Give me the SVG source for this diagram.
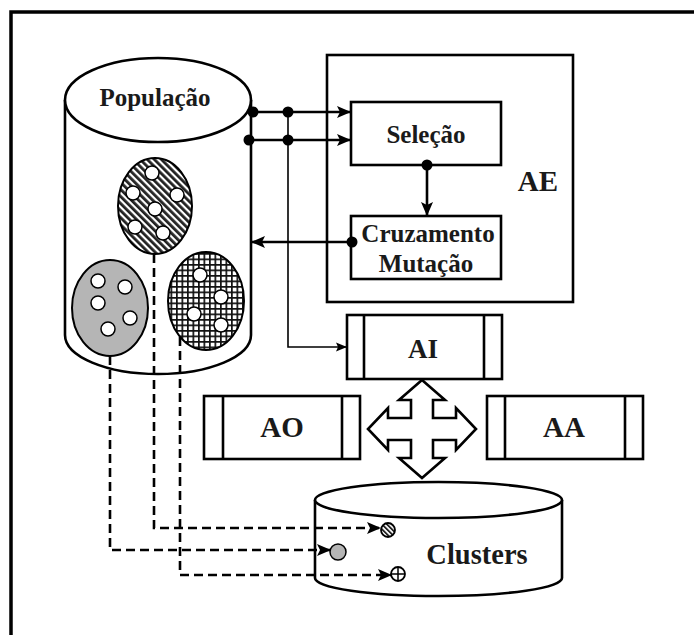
<svg xmlns="http://www.w3.org/2000/svg" width="694" height="635" viewBox="0 0 694 635">
<defs>
<style>
.s{fill:#fff;stroke:#000;stroke-width:2.6}
.t{font-family:'Liberation Serif','DejaVu Serif',serif;font-weight:700;fill:#1a1a1a;text-anchor:middle}
.c{fill:none;stroke:#000;stroke-width:2.6}
.thin{fill:none;stroke:#000;stroke-width:1.6}
.d{fill:none;stroke:#000;stroke-width:2.6;stroke-dasharray:9 5}
.w{fill:#fff;stroke:#000;stroke-width:1.5}
.dot{fill:#000}
</style>
<pattern id="diag" patternUnits="userSpaceOnUse" width="5" height="5" patternTransform="rotate(-45)">
<rect width="5" height="5" fill="#fff"/><rect width="2.8" height="5" fill="#222"/>
</pattern>
<pattern id="diag2" patternUnits="userSpaceOnUse" width="3.5" height="3.5" patternTransform="rotate(-45)">
<rect width="3.5" height="3.5" fill="#fff"/><rect width="1.8" height="3.5" fill="#222"/>
</pattern>
<pattern id="grid" patternUnits="userSpaceOnUse" width="5.5" height="5.5">
<rect width="5.5" height="5.5" fill="#fff"/><rect width="1.7" height="5.5" fill="#111"/><rect width="5.5" height="1.7" fill="#111"/>
</pattern>
<marker id="ah" markerUnits="userSpaceOnUse" markerWidth="14" markerHeight="14" viewBox="0 0 14 14" refX="13" refY="7" orient="auto">
<path d="M0,1 L14,7 L0,13 L3,7 Z" fill="#000"/>
</marker>
<marker id="ahs" markerUnits="userSpaceOnUse" markerWidth="11" markerHeight="11" viewBox="0 0 11 11" refX="10" refY="5.5" orient="auto">
<path d="M0,1 L11,5.5 L0,10 L2,5.5 Z" fill="#000"/>
</marker>
</defs>
<rect width="694" height="635" fill="#fff"/>
<path d="M11,635 V12 H694" fill="none" stroke="#000" stroke-width="3.5"/>

<g id="populacao">
<path class="s" d="M65,100 V335 A93,39 0 0 0 251,335 V100"/>
<ellipse class="s" cx="158" cy="100" rx="93" ry="42"/>
<text class="t" x="155" y="106" font-size="25">População</text>
<ellipse cx="155" cy="206" rx="37" ry="48" fill="url(#diag)" stroke="#000" stroke-width="2"/>
<g class="w">
<circle cx="152" cy="173" r="7"/><circle cx="133" cy="193" r="7"/><circle cx="177" cy="195" r="7"/>
<circle cx="155" cy="209" r="7"/><circle cx="135" cy="227" r="7"/><circle cx="163" cy="233" r="7"/>
</g>
<ellipse cx="110" cy="308" rx="38" ry="48" fill="#b5b5b5" stroke="#000" stroke-width="2"/>
<g class="w">
<circle cx="98" cy="281" r="7"/><circle cx="125" cy="287" r="7"/><circle cx="98" cy="303" r="7"/>
<circle cx="130" cy="318" r="7"/><circle cx="108" cy="329" r="7"/>
</g>
<ellipse cx="206" cy="301" rx="38" ry="49" fill="url(#grid)" stroke="#000" stroke-width="2"/>
<g class="w">
<circle cx="200" cy="275" r="7"/><circle cx="221" cy="297" r="7"/><circle cx="194" cy="314" r="7"/><circle cx="221" cy="325" r="7"/>
</g>
</g>

<g id="ae">
<rect class="s" x="327" y="55" width="246" height="247"/>
<text class="t" x="538" y="191" font-size="29">AE</text>
</g>
<g id="selecao">
<rect class="s" x="351" y="102" width="150" height="63"/>
<text class="t" x="426" y="143" font-size="25">Seleção</text>
</g>
<g id="cruzamento">
<rect class="s" x="351" y="216" width="150" height="63"/>
<text class="t" x="428" y="242" font-size="25">Cruzamento</text>
<text class="t" x="426" y="272" font-size="25">Mutação</text>
</g>

<g id="ai">
<rect class="s" x="347" y="315" width="155" height="64"/>
<path class="c" d="M364,315 V379 M484,315 V379"/>
<text class="t" x="423" y="358" font-size="27">AI</text>
</g>
<g id="ao">
<rect class="s" x="204" y="396" width="156" height="63"/>
<path class="c" d="M223,396 V459 M342,396 V459"/>
<text class="t" x="282" y="437" font-size="29">AO</text>
</g>
<g id="aa">
<rect class="s" x="487" y="396" width="156" height="63"/>
<path class="c" d="M505,396 V459 M625,396 V459"/>
<text class="t" x="564" y="437" font-size="29">AA</text>
</g>
<g id="seta4">
<polygon class="s" points="422,380 445,400 433,400 433,418 456,418 456,408 476,429 456,450 456,440 433,440 433,458 445,458 422,478 399,458 411,458 411,440 388,440 388,450 368,429 388,408 388,418 411,418 411,400 399,400"/>
</g>

<g id="clusters">
<path class="s" d="M315,500 V578 A123.5,18 0 0 0 562,578 V500"/>
<ellipse class="s" cx="438.5" cy="500" rx="123.5" ry="18"/>
<text class="t" x="477" y="564" font-size="28.5">Clusters</text>
<circle cx="388" cy="530" r="7" fill="url(#diag2)" stroke="#000" stroke-width="1.8"/>
<circle cx="338" cy="552" r="8" fill="#b5b5b5" stroke="#000" stroke-width="1.5"/>
<circle cx="398" cy="574" r="7" fill="#fff" stroke="#000" stroke-width="1.8"/>
<path d="M391,574 H405 M398,567 V581" stroke="#000" stroke-width="1.5"/>
</g>

<g id="conectores">
<path class="c" d="M251,112 H350" marker-end="url(#ah)"/>
<path class="c" d="M249,140 H350" marker-end="url(#ah)"/>
<path class="thin" d="M288,112 V347 H346" marker-end="url(#ahs)"/>
<path class="c" d="M427,165 V215" marker-end="url(#ah)"/>
<path class="c" d="M352,242 H252" marker-end="url(#ah)"/>
<circle class="dot" cx="253" cy="112" r="5.5"/>
<circle class="dot" cx="288" cy="112" r="5.5"/>
<circle class="dot" cx="249" cy="140" r="5.5"/>
<circle class="dot" cx="288" cy="140" r="5.5"/>
<circle class="dot" cx="427" cy="165" r="5.5"/>
<circle class="dot" cx="352" cy="242" r="5.5"/>
<path class="d" d="M154,254 V528 H380" marker-end="url(#ah)"/>
<path class="d" d="M110,356 V550 H330" marker-end="url(#ah)"/>
<path class="d" d="M180,337 V575 H391" marker-end="url(#ah)"/>
</g>
</svg>
